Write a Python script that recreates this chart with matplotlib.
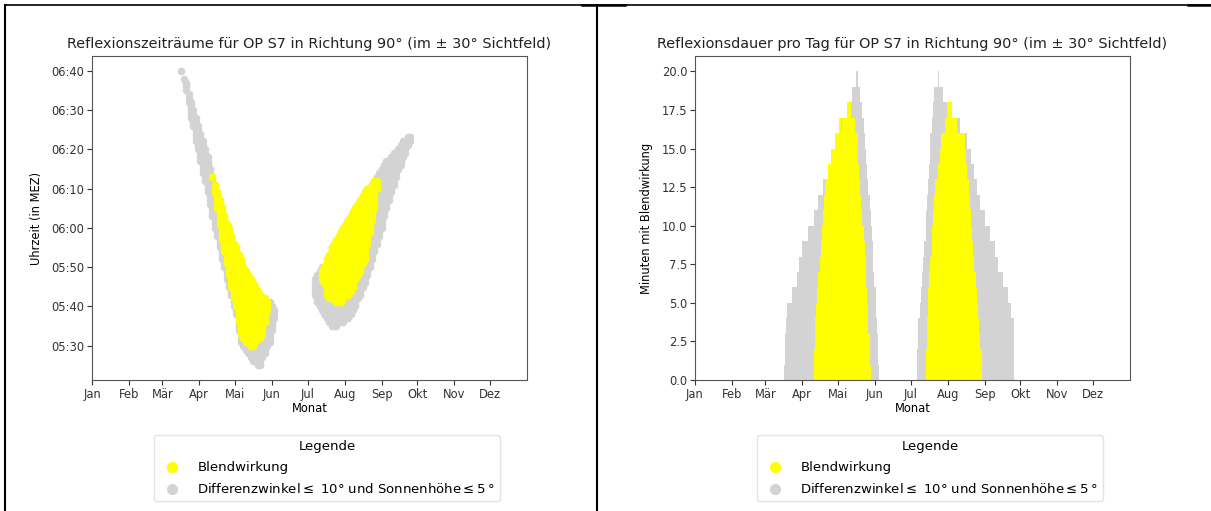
import numpy as np
import matplotlib.pyplot as plt
from matplotlib.lines import Line2D
from matplotlib.ticker import FuncFormatter, MultipleLocator

months = ['Jan', 'Feb', 'Mär', 'Apr', 'Mai', 'Jun', 'Jul', 'Aug', 'Sep', 'Okt', 'Nov', 'Dez']
month_start = [0, 31, 59, 90, 120, 151, 181, 212, 243, 273, 304, 334]

# left chart: first / last reflection minute (minutes after midnight, MEZ) for sampled days
gray_days = [75, 77, 79, 81, 83, 85, 87, 89, 91, 93, 95, 97, 99, 101, 103, 105, 107, 109, 111, 113,
             115, 117, 119, 121, 123, 125, 127, 129, 131, 133, 135, 137, 139, 141, 143, 145, 147, 149, 151, 153,
             187, 189, 191, 193, 195, 197, 199, 201, 203, 205, 207, 209, 211, 213, 215, 217, 219, 221, 223, 225,
             227, 229, 231, 233, 235, 237, 239, 241, 243, 245, 247, 249, 251, 253, 255, 257, 259, 261, 263, 265, 267]
gray_from = [400, 398, 395, 392, 388, 386, 382, 380, 377, 374, 372, 369, 366, 363, 360, 358, 355, 352, 350, 347,
             345, 343, 340, 338, 334, 331, 330, 329, 328, 327, 326, 326, 325, 325, 327, 328, 330, 331, 334, 337,
             343, 341, 340, 339, 338, 337, 336, 335, 335, 335, 336, 336, 336, 337, 337, 338, 339, 340, 342, 343,
             345, 346, 348, 350, 352, 354, 356, 358, 360, 363, 365, 367, 369, 371, 373, 375, 376, 378, 379, 381, 382]
gray_to = [400, 398, 397, 394, 392, 390, 388, 386, 384, 382, 380, 378, 375, 373, 371, 369, 367, 365, 363, 361,
           360, 358, 356, 355, 353, 352, 350, 349, 348, 347, 346, 345, 344, 343, 342, 342, 341, 341, 340, 339,
           347, 348, 349, 350, 350, 352, 353, 355, 356, 357, 358, 359, 360, 361, 362, 363, 364, 365, 366, 367,
           368, 369, 370, 370, 371, 372, 373, 374, 375, 376, 377, 377, 378, 379, 379, 380, 381, 382, 382, 383, 383]

glare_days = [101, 103, 105, 107, 109, 111, 113, 115, 117, 119, 121, 123, 125, 127, 129, 131, 133, 135, 137, 139,
              141, 143, 145, 147,
              193, 195, 197, 199, 201, 203, 205, 207, 209, 211, 213, 215, 217, 219, 221, 223, 225, 227, 229, 231,
              233, 235, 237, 239]
glare_from = [373, 369, 365, 361, 357, 354, 351, 348, 345, 342, 340, 336, 333, 332, 331, 331, 330, 330, 331, 332,
              332, 333, 336, 339,
              347, 346, 343, 342, 342, 342, 341, 341, 341, 342, 343, 343, 344, 345, 347, 348, 349, 351, 352, 356,
              359, 362, 365, 370]
glare_to = [373, 371, 369, 367, 365, 363, 361, 360, 358, 356, 355, 353, 352, 350, 349, 348, 347, 346, 345, 344,
            343, 342, 342, 341,
            349, 350, 352, 353, 355, 356, 357, 358, 359, 360, 361, 362, 363, 364, 365, 366, 367, 368, 369, 370,
            370, 371, 372, 372]

# right chart: minutes per day
gray_start_1 = 75
gray_minutes_1 = [1, 3, 4, 5, 5, 5, 5, 6, 6, 6, 6, 7, 7, 8, 8, 9, 9, 9, 9, 9, 10, 10, 10, 10, 10,
                  11, 11, 11, 11, 12, 12, 12, 12, 13, 13, 13, 13, 14, 14, 14, 15, 15, 15, 16, 16, 16,
                  17, 17, 17, 17, 17, 17, 17, 18, 18, 18, 18, 19, 19, 19, 19, 20, 19, 19, 18, 18,
                  17, 16, 15, 14, 13, 12, 11, 10, 9, 7, 6, 4, 3, 1]
gray_start_2 = 187
gray_minutes_2 = [2, 4, 5, 6, 7, 8, 9, 11, 12, 13, 14, 16, 17, 18, 19, 19, 19, 20, 19, 19, 19, 19,
                  18, 18, 18, 18, 18, 18, 18, 17, 17, 17, 17, 17, 17, 17, 16, 16, 16, 16, 16, 16,
                  15, 15, 15, 14, 14, 14, 13, 13, 12, 12, 12, 11, 11, 11, 11, 10, 10, 10, 10,
                  9, 9, 9, 9, 8, 8, 8, 7, 7, 7, 7, 6, 6, 6, 6, 5, 5, 5, 4, 4]
glare_start_1 = 100
glare_minutes_1 = [2, 4, 5, 6, 7, 8, 9, 10, 11, 12, 13, 13, 14, 14, 14, 15, 15, 15, 16, 16, 16,
                   17, 17, 16, 17, 17, 17, 17, 18, 18, 18, 17, 17, 17, 17, 16, 16,
                   14, 13, 12, 11, 10, 9, 8, 6, 5, 3, 1]
glare_start_2 = 194
glare_minutes_2 = [2, 4, 6, 7, 8, 10, 11, 12, 13, 13, 14, 14, 15, 16, 16, 16, 17, 17, 18, 18, 18, 18,
                   17, 17, 17, 17, 16, 16, 16, 16, 16, 16, 16,
                   15, 14, 13, 12, 11, 10, 9, 8, 7, 6, 5, 4, 3, 2]

YELLOW = '#ffff00'
GRAY = '#d3d3d3'
label_glare = 'Blendwirkung'
label_gray = 'Differenzwinkel$\\leq$ 10° und Sonnenhöhe$\\leq5\\,$°'


def expand(days, t0, t1):
    xs, ys = [], []
    for d, a, b in zip(days, t0, t1):
        for m in range(a, b + 1):
            xs.append(d)
            ys.append(m)
    return xs, ys


def hhmm(v, pos):
    v = int(round(v))
    return '%02d:%02d' % (v // 60, v % 60)


def month_axis(ax):
    ax.set_xlim(0, 365)
    ax.set_xticks(month_start)
    ax.set_xticklabels(months)
    ax.set_xlabel('Monat', fontsize=8.3, labelpad=1)
    ax.tick_params(labelsize=8.3, colors='#333333', pad=2)
    for s in ax.spines.values():
        s.set_color('#555555')


def add_legend(ax):
    handles = [Line2D([], [], ls='none', marker='o', ms=7, color=YELLOW, label=label_glare),
               Line2D([], [], ls='none', marker='o', ms=7, color=GRAY, label=label_gray)]
    leg = ax.legend(handles=handles, title='Legende', loc='upper center',
                    bbox_to_anchor=(0.54, -0.17), borderaxespad=0, fontsize=9.5,
                    title_fontsize=9.5, labelspacing=0.6, handletextpad=0.9)
    leg.get_frame().set_edgecolor('#dddddd')


fig = plt.figure(figsize=(12.11, 5.11), dpi=100)

ax1 = fig.add_axes([0.076, 0.2564, 0.3592, 0.634])
gx, gy = expand(gray_days, gray_from, gray_to)
yx, yy = expand(glare_days, glare_from, glare_to)
ax1.scatter(gx, gy, s=30, color=GRAY, linewidths=0)
ax1.scatter(yx, yy, s=30, color=YELLOW, linewidths=0)
ax1.yaxis.set_major_locator(MultipleLocator(10))
ax1.yaxis.set_major_formatter(FuncFormatter(hhmm))
ax1.set_ylabel('Uhrzeit (in MEZ)', fontsize=8.3, labelpad=6)
ax1.set_title('Reflexionszeiträume für OP S7 in Richtung 90° (im ± 30° Sichtfeld)', fontsize=10.4, pad=6,
              color='#222222')
month_axis(ax1)
add_legend(ax1)

ax2 = fig.add_axes([0.5739, 0.2564, 0.3592, 0.634])
ax2.bar(gray_start_1 + np.arange(len(gray_minutes_1)), gray_minutes_1, width=1, color=GRAY)
ax2.bar(gray_start_2 + np.arange(len(gray_minutes_2)), gray_minutes_2, width=1, color=GRAY)
ax2.bar(glare_start_1 + np.arange(len(glare_minutes_1)), glare_minutes_1, width=1, color=YELLOW)
ax2.bar(glare_start_2 + np.arange(len(glare_minutes_2)), glare_minutes_2, width=1, color=YELLOW)
ax2.set_ylabel('Minuten mit Blendwirkung', fontsize=8.3, labelpad=6)
ax2.set_title('Reflexionsdauer pro Tag für OP S7 in Richtung 90° (im ± 30° Sichtfeld)', fontsize=10.4, pad=6,
              color='#222222')
month_axis(ax2)
add_legend(ax2)

# table cell borders around the two charts
W, H = 1211.0, 511.0
fig.add_artist(Line2D([5 / W, 1], [1 - 5 / H, 1 - 5 / H], color='black', lw=1.2))
fig.add_artist(Line2D([582 / W, 625 / W], [1 - 5.5 / H, 1 - 5.5 / H], color='black', lw=1.8))
fig.add_artist(Line2D([1188 / W, 1], [1 - 5.5 / H, 1 - 5.5 / H], color='black', lw=1.8))
fig.add_artist(Line2D([5 / W, 5 / W], [0, 1 - 5 / H], color='black', lw=1.5))
fig.add_artist(Line2D([597 / W, 597 / W], [0, 1 - 5 / H], color='black', lw=1.5))

fig.savefig('out.png', dpi=100)
